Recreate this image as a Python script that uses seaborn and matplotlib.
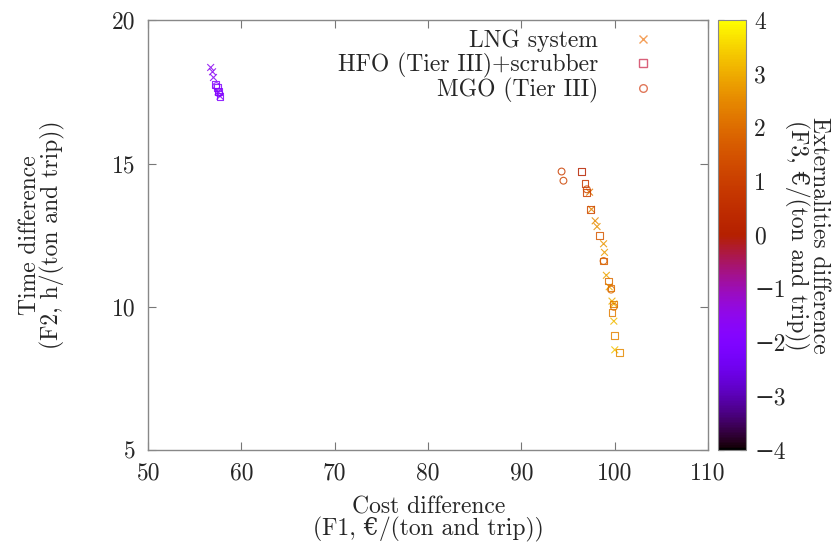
import pandas as pd
import matplotlib
matplotlib.use('Agg')
import matplotlib.pyplot as plt
import seaborn as sns
from matplotlib.lines import Line2D
from matplotlib.cm import ScalarMappable
from matplotlib.colors import Normalize

# --- DATA ---
lng_f1 = [56.7, 56.9, 57.0, 57.5, 57.7, 97.3, 97.5, 97.9, 98.1, 98.8, 98.9, 99.1, 99.4, 99.7, 99.9, 99.9, 100.0]
lng_f2 = [18.35, 18.2, 18.0, 17.5, 17.35, 14.0, 13.4, 13.0, 12.8, 12.2, 11.9, 11.1, 10.7, 10.2, 10.1, 9.5, 8.5]
lng_f3 = [-1.6, -1.6, -1.7, -1.7, -1.8, 2.2, 2.4, 2.5, 2.6, 2.7, 2.8, 2.9, 3.0, 3.0, 3.1, 3.2, 3.3]

hfo_f1 = [57.2, 57.4, 57.5, 57.7, 96.45, 96.8, 97.0, 97.4, 98.4, 98.8, 99.35, 99.6, 99.9, 99.7, 100.0, 100.5]
hfo_f2 = [17.75, 17.65, 17.5, 17.35, 14.72, 14.3, 14.0, 13.4, 12.5, 11.6, 10.9, 10.66, 10.1, 9.8, 9.0, 8.4]
hfo_f3 = [-1.9, -1.9, -2.0, -2.0, 0.1, 0.8, 1.0, 1.2, 1.6, 1.8, 2.0, 2.1, 2.2, 2.3, 2.4, 2.5]

mgo_f1 = [57.3, 57.6, 94.3, 94.5, 97.0, 98.8, 99.6, 99.9]
mgo_f2 = [17.7, 17.45, 14.72, 14.4, 14.1, 11.6, 10.6, 10.0]
mgo_f3 = [-1.8, -1.9, 1.0, 1.1, 1.2, 1.8, 2.0, 2.1]

systems = ['LNG system', 'HFO (Tier III)+scrubber', 'MGO (Tier III)']
markers = ['x', 's', 'o']
legend_colors = ['#f4a05a', '#d9607a', '#e0785a']
cbar_ticks = [-4, -3, -2, -1, 0, 1, 2, 3, 4]

frames = []
for name, f1, f2, f3 in zip(systems, [lng_f1, hfo_f1, mgo_f1],
                            [lng_f2, hfo_f2, mgo_f2], [lng_f3, hfo_f3, mgo_f3]):
    frames.append(pd.DataFrame({'f1': f1, 'f2': f2, 'f3': f3, 'system': name}))
df = pd.concat(frames, ignore_index=True)

# --- STYLE ---
FS = 17
sns.set_style('ticks')
plt.rcParams['font.family'] = ['cmr10', 'DejaVu Serif']
plt.rcParams['axes.unicode_minus'] = True
plt.rcParams['font.size'] = FS

fig = plt.figure(figsize=(8.37, 5.45), dpi=100)
ax = fig.add_axes([0.177, 0.174, 0.669, 0.789])
cax = fig.add_axes([0.858, 0.174, 0.033, 0.789])

norm = Normalize(-4, 4)
for name, mk in zip(systems, markers):
    sub = df[df['system'] == name]
    n_before = len(ax.collections)
    sns.scatterplot(data=sub, x='f1', y='f2', hue='f3', palette='gnuplot',
                    hue_norm=(-4, 4), marker=mk, s=24, linewidth=0.8,
                    alpha=0.85, legend=False, ax=ax)
    coll = ax.collections[n_before]
    if mk != 'x':
        fc = coll.get_facecolors()
        coll.set_edgecolors(fc)
        coll.set_facecolors('none')

ax.set_xlim(50, 110)
ax.set_ylim(5, 20)
ax.set_xticks([50, 60, 70, 80, 90, 100, 110])
ax.set_yticks([5, 10, 15, 20])
ax.set_xlabel('Cost difference\n(F1, €/(ton and trip))', linespacing=0.95, labelpad=8)
ax.set_ylabel('Time difference\n(F2, h/(ton and trip))', linespacing=0.95, labelpad=34)
ax.tick_params(direction='in', top=True, right=True, length=6, color='#777777',
               labelsize=FS, pad=9)
for sp in ax.spines.values():
    sp.set_color('#888888')
    sp.set_linewidth(1.0)

handles = [Line2D([], [], linestyle='none', marker=m, markersize=5.5,
                  markerfacecolor='none', markeredgecolor=c, markeredgewidth=1.0)
           for m, c in zip(markers, legend_colors)]
ax.legend(handles, systems, loc='upper right', frameon=False, markerfirst=False,
          handlelength=1.0, handletextpad=1.4, labelspacing=0.02, fontsize=FS,
          borderaxespad=0.0, bbox_to_anchor=(0.922, 1.0))

cb = fig.colorbar(ScalarMappable(norm=norm, cmap='gnuplot'), cax=cax)
cb.set_ticks(cbar_ticks)
cb.outline.set_edgecolor('#888888')
cax.tick_params(direction='in', left=True, right=True, length=4, color='#333333',
                labelsize=FS, pad=6)
cb.set_label('Externalities difference\n(F3, €/(ton and trip))', rotation=270,
             labelpad=32, linespacing=0.95)

fig.savefig('out.png', dpi=100)
